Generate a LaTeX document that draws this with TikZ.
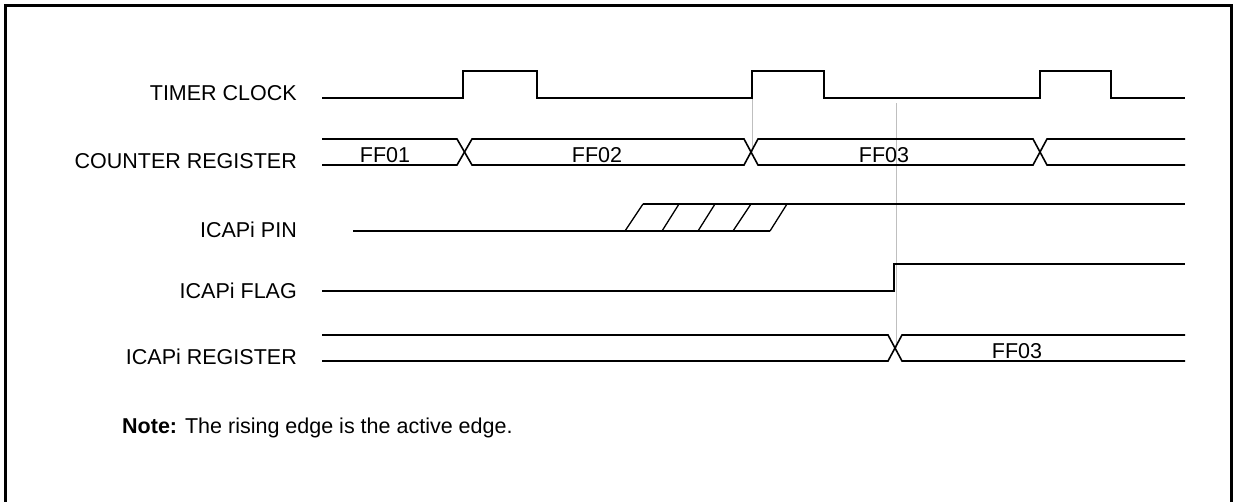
\documentclass[tikz,border=0pt]{standalone}
\usepackage{fontspec}
\setmainfont{Liberation Sans}
\begin{document}
\begin{tikzpicture}[x=1pt,y=-1pt,
  lbl/.style={anchor=base east,inner sep=0pt,font=\fontsize{21.5}{25}\selectfont},
  val/.style={anchor=base,inner sep=0pt,font=\fontsize{21.5}{25}\selectfont},
  sig/.style={line width=2pt,line join=miter},
  bus/.style={line width=1.6pt},
  thin/.style={line width=1.3pt},
  guide/.style={line width=1pt,draw=black!25}]
\useasboundingbox (0,0) rectangle (1237,501);
% frame
\draw[line width=3pt] (5,503) -- (5,5) -- (1231,5) -- (1231,503);
% guide lines
\draw[guide] (752,71) -- (752,152);
\draw[guide] (896,103) -- (896,348);
% labels
\node[lbl] (tclk) at (297,100) {TIMER CLOCK};
\node[lbl] (creg) at (297,168) {COUNTER REGISTER};
\node[lbl] (ipin) at (297,237) {ICAPi PIN};
\node[lbl] (iflag) at (297,298) {ICAPi FLAG};
\node[lbl] (ireg) at (297,364) {ICAPi REGISTER};
% timer clock
\draw[sig] (322,98) -- (463,98) -- (463,71) -- (537,71) -- (537,98) -- (752,98) -- (752,71) -- (824,71) -- (824,98) -- (1040,98) -- (1040,71) -- (1111,71) -- (1111,98) -- (1185,98);
% counter register bus
\draw[bus] (322,139) -- (457,139) -- (472,165) -- (744,165) -- (758,139) -- (1033,139) -- (1047,165) -- (1185,165);
\draw[bus] (322,165) -- (457,165) -- (472,139) -- (744,139) -- (758,165) -- (1033,165) -- (1047,139) -- (1185,139);
\node[val] (v1) at (385,162) {FF01};
\node[val] (v2) at (597,162) {FF02};
\node[val] (v3) at (884,162) {FF03};
% ICAPi pin
\draw[thin] (353,231) -- (770,231);
\draw[thin] (625,231) -- (643,204) (662,231) -- (679,204) (698,231) -- (715,204) (733,231) -- (751,204) (770,231) -- (787,204);
\draw[sig] (643,204) -- (1185,204);
% ICAPi flag
\draw[sig] (322,291) -- (894,291) -- (894,264) -- (1185,264);
% ICAPi register bus
\draw[bus] (322,335) -- (888,335) -- (902,361) -- (1185,361);
\draw[bus] (322,361) -- (888,361) -- (902,335) -- (1185,335);
\node[val] (v4) at (1017,358) {FF03};
% note
\node[anchor=base west,inner sep=0pt,font=\fontsize{21.5}{25}\selectfont] (note) at (122,433) {\textbf{Note:} The rising edge is the active edge.};
\end{tikzpicture}
\end{document}
